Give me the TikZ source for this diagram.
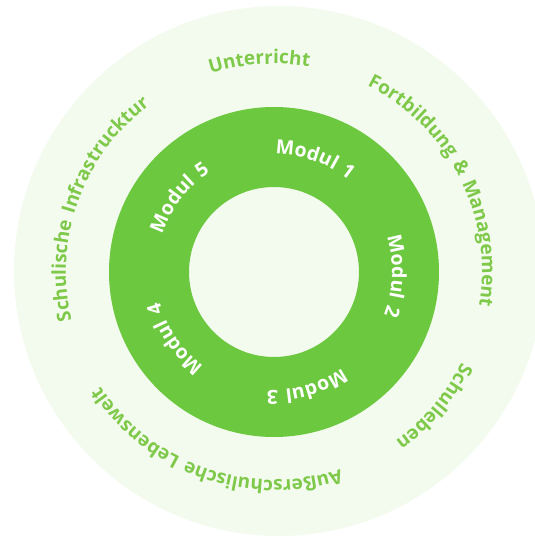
\documentclass[tikz,border=0pt]{standalone}
\usepackage{fontspec}
\setmainfont{Open Sans}
\newfontfamily\labelfont[LetterSpace=10]{Open Sans}
\usetikzlibrary{decorations.text}
\definecolor{ringgreen}{HTML}{6CC93F}
\definecolor{palegreen}{HTML}{F3FBEE}
\definecolor{labelgreen}{HTML}{7FC94A}
\newcommand\modulfont{\labelfont\bfseries\fontsize{19.5}{19.5}\selectfont\color{white}}
\newcommand\fieldfont{\labelfont\bfseries\fontsize{19}{19}\selectfont\color{labelgreen}}

\begin{document}
\begin{tikzpicture}[
    x=1pt,y=1pt,
    field/.style={fill=palegreen},
    ring/.style={fill=ringgreen,even odd rule},
    arc text/.style={decorate,decoration={text along path,text align=center,text={#1}}}
    ]
    \useasboundingbox (0,0) rectangle (535,539);
    \coordinate (centre) at (274,267);
    \coordinate (outer) at (279,268);
    % fields
    \fill [field] (outer) circle[radius=265];
    % modules
    \fill [ring] (centre) circle[radius=165] (centre) circle[radius=85];
    % module labels
    % 1
    \path [arc text={|\modulfont|Modul 1}] (centre) ++(160:118) arc[start angle=160,end angle=-20,radius=118];
    % 2
    \path [arc text={|\modulfont|Modul 2}] (centre) ++(88:118) arc[start angle=88,end angle=-92,radius=118];
    % 3
    \path [arc text={|\modulfont|Modul 3}] (centre) ++(16:118) arc[start angle=16,end angle=-164,radius=118];
    % 4
    \path [arc text={|\modulfont|Modul 4}] (centre) ++(-56:118) arc[start angle=-56,end angle=-236,radius=118];
    % 5
    \path [arc text={|\modulfont|Modul 5}] (centre) ++(232:118) arc[start angle=232,end angle=52,radius=118];
    % field labels
    % Unterricht
    \path [arc text={|\fieldfont|Unterricht}] (centre) ++(184:208) arc[start angle=184,end angle=4,radius=208];
    % Fortbildung
    \path [arc text={|\fieldfont|Fortbildung {\&} Management}] (centre) ++(117:208) arc[start angle=117,end angle=-63,radius=208];
    % Schulleben
    \path [arc text={|\fieldfont|Schulleben}] (centre) ++(50:208) arc[start angle=50,end angle=-130,radius=208];
    % Lebenswelt
    \path [arc text={|\fieldfont|Außerschulische Lebenswelt}] (centre) ++(-19:208) arc[start angle=-19,end angle=-199,radius=208];
    % Infrastruktur
    \path [arc text={|\fieldfont|Schulische Infrastrucktur}] (centre) ++(250:208) arc[start angle=250,end angle=70,radius=208];
\end{tikzpicture}
\end{document}
